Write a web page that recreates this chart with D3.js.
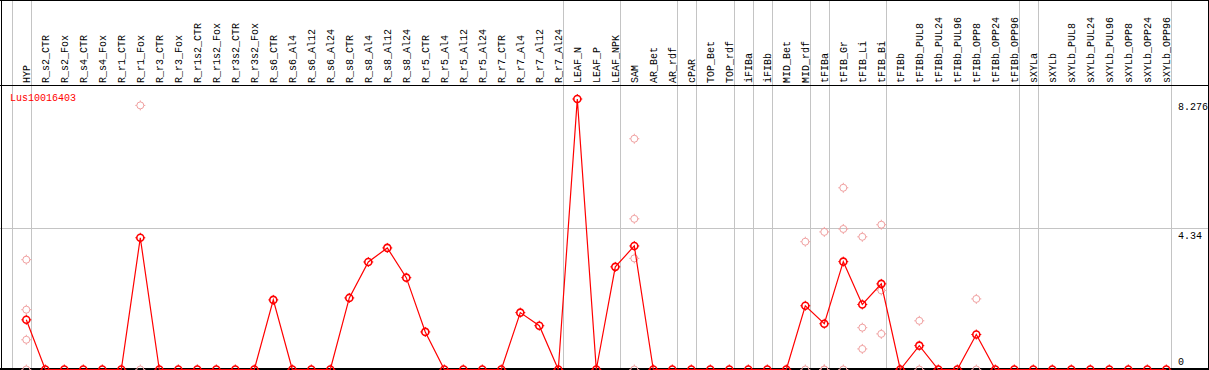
<!DOCTYPE html>
<html>
<head>
<meta charset="utf-8">
<script src="https://cdn.jsdelivr.net/npm/d3@7"></script>
<style>
  html, body { margin: 0; padding: 0; background: #fff; }
  text { font-family: "Liberation Mono", "DejaVu Sans Mono", monospace; font-size: 10px; }
</style>
</head>
<body>
<div id="chart"></div>
<script>
// sample names, one per column
const samples = ["HYP","R_s2_CTR","R_s2_Fox","R_s4_CTR","R_s4_Fox","R_r1_CTR","R_r1_Fox","R_r3_CTR","R_r3_Fox",
  "R_r1s2_CTR","R_r1s2_Fox","R_r3s2_CTR","R_r3s2_Fox","R_s6_CTR","R_s6_Al4","R_s6_Al12","R_s6_Al24",
  "R_s8_CTR","R_s8_Al4","R_s8_Al12","R_s8_Al24","R_r5_CTR","R_r5_Al4","R_r5_Al12","R_r5_Al24",
  "R_r7_CTR","R_r7_Al4","R_r7_Al12","R_r7_Al24","LEAF_N","LEAF_P","LEAF_NPK","SAM","AR_Bet","AR_rdf",
  "cPAR","TOP_Bet","TOP_rdf","iFIBa","iFIBb","MID_Bet","MID_rdf","tFIBa","tFIB_Gr","tFIB_Li","tFIB_Bi",
  "tFIBb","tFIBb_PUL8","tFIBb_PUL24","tFIBb_PUL96","tFIBb_OPP8","tFIBb_OPP24","tFIBb_OPP96",
  "sXYLa","sXYLb","sXYLb_PUL8","sXYLb_PUL24","sXYLb_PUL96","sXYLb_OPP8","sXYLb_OPP24","sXYLb_OPP96"];

// mean expression per sample
const meanValues = [1.52,0,0,0,0,0,4.03,0,0,0,0,0,0,2.13,0,0,0,
  2.19,3.29,3.72,2.81,1.15,0,0,0,0,1.74,1.34,0,8.276,0,3.14,3.78,0,0,
  0,0,0,0,0,0,1.95,1.40,3.30,1.99,2.62,
  0,0.73,0,0,1.07,0,0,
  0,0,0,0,0,0,0,0];

// replicate values (light markers)
const repSamples = ["HYP","R_r1_Fox","SAM","MID_rdf","tFIBa","tFIB_Gr","tFIB_Li","tFIB_Bi","tFIBb_PUL8","tFIBb_OPP8"];
const repValues = [[3.36,1.83,0.91,0],[8.08,0],[7.06,4.61,3.40,0],[3.91,0],[4.21,0,0],
  [5.56,4.30,0],[4.06,1.28,0.63],[4.43,2.42,1.09],[1.49,0],[2.16,0]];

// group separators: after these column indexes
const groupEnds = [-1,0,28,31,34,35,37,38,39,41,42,45,52,53,60];
const axisTicks = [0, 4.34, 8.276];
const geneName = "Lus10016403";

const width = 1209, height = 370;
const headerBottom = 85;

const svg = d3.select("#chart").append("svg")
  .attr("width", width).attr("height", height);

const xi = d3.scaleLinear().domain([0, samples.length - 1]).range([26.3, 1166.3]);
const x = d3.scalePoint().domain(samples).range([26.3, 1166.3]);
const y = d3.scaleLinear().domain([0, 8.276]).range([369.5, 99]);

//grid
svg.append("g").selectAll("line").data(groupEnds).join("line")
  .attr("x1", d => Math.round(xi(d + 0.23)) + 0.5).attr("x2", d => Math.round(xi(d + 0.23)) + 0.5)
  .attr("y1", 0).attr("y2", height)
  .attr("stroke", "#c4c4c4").attr("shape-rendering", "crispEdges");

svg.append("line")
  .attr("x1", 0).attr("x2", width)
  .attr("y1", Math.round(y(4.34)) + 0.5).attr("y2", Math.round(y(4.34)) + 0.5)
  .attr("stroke", "#c4c4c4").attr("shape-rendering", "crispEdges");

//frame
const frame = svg.append("g").attr("stroke", "#000").attr("shape-rendering", "crispEdges");
frame.append("line").attr("x1", 0).attr("x2", width).attr("y1", 0.5).attr("y2", 0.5);
frame.append("line").attr("x1", 0).attr("x2", width).attr("y1", headerBottom + 0.5).attr("y2", headerBottom + 0.5);
frame.append("line").attr("x1", 0).attr("x2", width).attr("y1", 369).attr("y2", 369).attr("stroke-width", 2);
frame.append("line").attr("x1", 1.5).attr("x2", 1.5).attr("y1", 0).attr("y2", height);
frame.append("line").attr("x1", 1208.5).attr("x2", 1208.5).attr("y1", 0).attr("y2", height);

//column labels
svg.append("g").selectAll("text").data(samples).join("text")
  .attr("transform", d => `translate(${x(d) + 3.5},83) rotate(-90)`)
  .attr("fill", "#000")
  .text(d => d);

//gene name
svg.append("text").attr("x", 10).attr("y", 100.5).attr("fill", "#ff0000").text(geneName);

//right axis
const yAxis = d3.axisRight(y).tickValues(axisTicks).tickSize(0).tickPadding(0)
  .tickFormat(d => String(d));
const ax = svg.append("g").attr("transform", "translate(1178,0)").call(yAxis);
ax.select(".domain").remove();
ax.selectAll("text")
  .attr("fill", "#000")
  .attr("font-family", "Liberation Mono, DejaVu Sans Mono").attr("font-size", 10)
  .attr("dy", d => d === 0 ? "-0.5em" : "1.05em");

//marker with little ticks
function marker(g, color, sw){
  g.append("circle").attr("r", 3.5).attr("fill", "none").attr("stroke", color).attr("stroke-width", sw);
  [[0,-1],[0,1],[-1,0],[1,0]].forEach(([dx, dy]) => {
    g.append("line")
      .attr("x1", dx * 3.5).attr("y1", dy * 3.5)
      .attr("x2", dx * 5).attr("y2", dy * 5)
      .attr("stroke", color).attr("stroke-width", 1);
  });
}

//replicates
const repPoints = [];
repSamples.forEach((s, i) => repValues[i].forEach(v => repPoints.push({s: s, v: v})));
svg.append("g").selectAll("g").data(repPoints).join("g")
  .attr("transform", d => `translate(${x(d.s)},${y(d.v)})`)
  .each(function(){ marker(d3.select(this), "#f0a0a0", 1); });

//mean line
const points = samples.map((s, i) => ({s: s, v: meanValues[i]}));
svg.append("path").datum(points)
  .attr("fill", "none").attr("stroke", "#ff0000").attr("stroke-width", 1.2)
  .attr("d", d3.line().x(d => x(d.s)).y(d => y(d.v)));

svg.append("g").selectAll("g").data(points).join("g")
  .attr("transform", d => `translate(${x(d.s)},${y(d.v)})`)
  .each(function(){ marker(d3.select(this), "#ff0000", 1.6); });
</script>
</body>
</html>
